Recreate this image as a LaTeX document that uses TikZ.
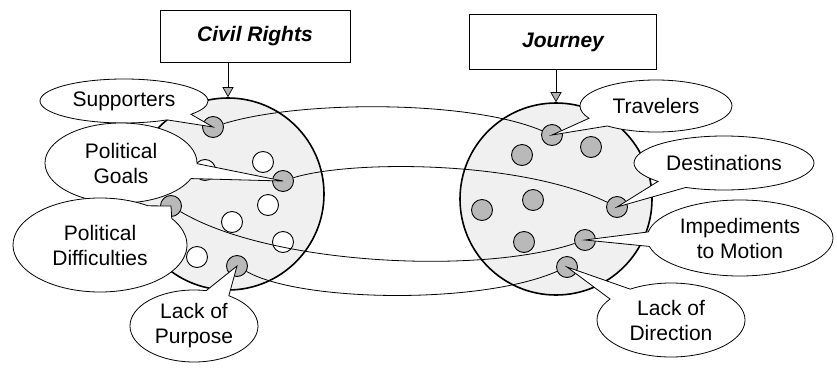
\documentclass[tikz,border=0pt]{standalone}
\usepackage{fontspec}
\setmainfont{Liberation Sans}
\usetikzlibrary{shapes.geometric,shapes.callouts,arrows.meta}
\begin{document}
\begin{tikzpicture}[x=1pt,y=-1pt,
  every node/.style={font=\fontsize{21}{25}\selectfont},
  bigcirc/.style={circle,draw,line width=1.6pt,fill=gray!12,inner sep=0pt},
  dotg/.style={circle,draw,line width=0.9pt,fill=gray!55,minimum size=21pt,inner sep=0pt},
  dotw/.style={circle,draw,line width=0.9pt,fill=white,minimum size=21pt,inner sep=0pt},
  titlebox/.style={draw,line width=0.7pt,fill=white,font=\fontsize{21}{25}\selectfont\bfseries\itshape},
  bubble/.style={ellipse callout,callout pointer arc=22,draw,line width=0.8pt,fill=white,inner sep=0pt,align=center},
  link/.style={line width=0.8pt},
  downarrow/.style={line width=0.7pt,-{Triangle[length=10pt,width=11pt,fill=gray!60]}}
]
\useasboundingbox (0,0) rectangle (837,367);

% big circles
\node[bigcirc,minimum size=192pt] (lc) at (228,194) {};
\node[bigcirc,minimum size=192pt] (rc) at (556,199) {};

% dots, left
\node[dotg] (s1) at (213,127) {};
\node[dotg] (s2) at (283,181) {};
\node[dotg] (s3) at (171,206) {};
\node[dotg] (s4) at (237,266) {};
\node[dotw] (w1) at (263,162) {};
\node[dotw] (w2) at (205,170) {};
\node[dotw] (w3) at (268,205) {};
\node[dotw] (w4) at (232,222) {};
\node[dotw] (w5) at (283,242) {};
\node[dotw] (w6) at (197,257) {};

% dots, right
\node[dotg] (t1) at (552,135) {};
\node[dotg] (t2) at (617,207) {};
\node[dotg] (t3) at (585,240) {};
\node[dotg] (t4) at (567,267) {};
\node[dotg] (g1) at (522,155) {};
\node[dotg] (g2) at (591,147) {};
\node[dotg] (g3) at (533,200) {};
\node[dotg] (g4) at (482,210) {};
\node[dotg] (g5) at (524,242) {};

% links
\draw[link] (s1) .. controls (300,100) and (470,100) .. (t1);
\draw[link] (s2) .. controls (350,160) and (520,160) .. (t2);
\draw[link] (s3) .. controls (270,265) and (480,275) .. (t3);
\draw[link] (s4) .. controls (300,302) and (480,305) .. (t4);

% callouts
\node[bubble,minimum width=168pt,minimum height=44pt,callout absolute pointer={(s1.center)}] (b1) at (124,101) {Supporters};
\node[bubble,minimum width=152pt,minimum height=80pt,callout absolute pointer={(s2.center)}] (b2) at (121,163) {Political\\Goals};
\node[bubble,minimum width=174pt,minimum height=94pt,callout absolute pointer={(s3.center)}] (b3) at (100,245) {Political\\Difficulties};
\node[bubble,minimum width=128pt,minimum height=72pt,callout absolute pointer={(s4.center)}] (b4) at (194,326) {Lack of\\Purpose};
\node[bubble,minimum width=152pt,minimum height=52pt,callout absolute pointer={(t1.center)}] (c1) at (656,106) {Travelers};
\node[bubble,minimum width=180pt,minimum height=54pt,callout absolute pointer={(t2.center)}] (c2) at (724,163) {Destinations};
\node[bubble,minimum width=186pt,minimum height=76pt,callout absolute pointer={(t3.center)}] (c3) at (740,238) {Impediments\\to Motion};
\node[bubble,minimum width=148pt,minimum height=74pt,callout absolute pointer={(t4.center)}] (c4) at (671,320) {Lack of\\Direction};

% title boxes
\node[titlebox,minimum width=190pt,minimum height=52pt] (cr) at (255,36) {Civil Rights};
\node[titlebox,minimum width=187pt,minimum height=55pt] (jo) at (563,42) {Journey};
\draw[downarrow] (cr.south -| lc.north) -- (lc.north);
\draw[downarrow] (jo.south -| rc.north) -- (rc.north);
\end{tikzpicture}
\end{document}
